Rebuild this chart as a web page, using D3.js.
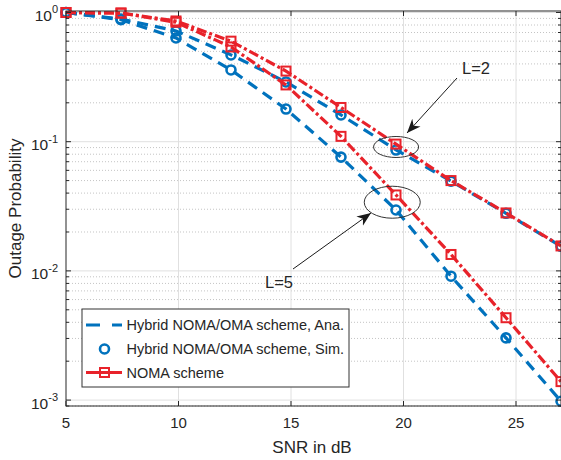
<!DOCTYPE html>
<html>
<head>
<meta charset="utf-8">
<script src="https://cdn.jsdelivr.net/npm/d3@7"></script>
<style>
body { margin: 0; background: #fff; }
svg text { font-family: "Liberation Sans", Arial, sans-serif; fill: #262626; }
</style>
</head>
<body>
<div id="chart"></div>
<script>
// SNR points (dB)
const snr = [5, 7.444, 9.889, 12.333, 14.778, 17.222, 19.667, 22.111, 24.556, 27];
// L = 2
const noma2 = [1.0, 0.99, 0.86, 0.60, 0.352, 0.184, 0.0958, 0.0500, 0.0281, 0.0156];
const hybAna2 = [1.0, 0.89, 0.72, 0.47, 0.29, 0.161, 0.0865, 0.0495, 0.0279, 0.0155];
const hybSim2 = [1.0, 0.89, 0.72, 0.469, 0.29, 0.161, 0.0862, 0.0495, 0.0279, 0.0155];
// L = 5
const noma5 = [1.0, 0.99, 0.84, 0.541, 0.275, 0.110, 0.0387, 0.0134, 0.00434, 0.00139];
const hybAna5 = [1.0, 0.88, 0.635, 0.359, 0.179, 0.076, 0.0296, 0.0091, 0.00303, 0.00098];
const hybSim5 = [1.0, 0.88, 0.635, 0.359, 0.179, 0.076, 0.0296, 0.0091, 0.00303, 0.00098];

const xTicks = [5, 10, 15, 20, 25];
const yTicks = [1, 0.1, 0.01, 0.001];
const yTickExp = ["0", "-1", "-2", "-3"];
const legendLabels = ["Hybrid NOMA/OMA scheme, Ana.", "Hybrid NOMA/OMA scheme, Sim.", "NOMA scheme"];

const width = 561, height = 460;
const pLeft = 66, pRight = 561, pTop = 11, pBottom = 406;
const blue = "#0072BD", red = "#E8222A";

const svg = d3.select("#chart").append("svg")
    .attr("width", width)
    .attr("height", height);

const x = d3.scaleLinear().domain([5, 27]).range([pLeft, pRight]);
const y = d3.scaleLog().domain([9e-4, 1.027]).range([pBottom, pTop]);

// grid
let minorVals = [];
for (let e = -4; e <= 0; e++) {
    for (let m = 2; m <= 9; m++) {
        let v = m * Math.pow(10, e);
        if (v > 9e-4 && v < 1.027) minorVals.push(v);
    }
}
svg.append("g").selectAll("line").data(minorVals).enter().append("line")
    .attr("x1", pLeft).attr("x2", pRight)
    .attr("y1", d => y(d)).attr("y2", d => y(d))
    .attr("stroke", "#c4c4c4").attr("stroke-width", 1)
    .attr("stroke-dasharray", "1,2");
svg.append("g").selectAll("line").data(yTicks).enter().append("line")
    .attr("x1", pLeft).attr("x2", pRight)
    .attr("y1", d => y(d)).attr("y2", d => y(d))
    .attr("stroke", "#e0e0e0").attr("stroke-width", 1);
svg.append("g").selectAll("line").data(xTicks.slice(1)).enter().append("line")
    .attr("x1", d => x(d)).attr("x2", d => x(d))
    .attr("y1", pTop).attr("y2", pBottom)
    .attr("stroke", "#e0e0e0").attr("stroke-width", 1);

// curves
const line = d3.line().x(d => x(d[0])).y(d => y(d[1]));
function drawCurve(vals, color, dash) {
    svg.append("path")
        .datum(snr.map((s, i) => [s, vals[i]]))
        .attr("d", line)
        .attr("fill", "none")
        .attr("stroke", color)
        .attr("stroke-width", 3.2)
        .attr("stroke-dasharray", dash);
}
function drawCircles(vals) {
    svg.append("g").selectAll("circle").data(snr.map((s, i) => [s, vals[i]])).enter().append("circle")
        .attr("cx", d => x(d[0])).attr("cy", d => y(d[1]))
        .attr("r", 4.5)
        .attr("fill", "none").attr("stroke", blue).attr("stroke-width", 2.6);
}
function drawSquares(vals) {
    svg.append("g").selectAll("rect").data(snr.map((s, i) => [s, vals[i]])).enter().append("rect")
        .attr("x", d => x(d[0]) - 4.5).attr("y", d => y(d[1]) - 4.5)
        .attr("width", 9).attr("height", 9)
        .attr("fill", "none").attr("stroke", red).attr("stroke-width", 2);
}
const blueDash = "11,7", redDash = "10,3,3,3";
drawCurve(hybAna2, blue, blueDash);
drawCurve(hybAna5, blue, blueDash);
drawCircles(hybSim2);
drawCircles(hybSim5);
drawCurve(noma2, red, redDash);
drawCurve(noma5, red, redDash);
drawSquares(noma2);
drawSquares(noma5);

// axes box
const axisColor = "#262626";
svg.append("rect")
    .attr("x", pLeft).attr("y", pTop)
    .attr("width", pRight - pLeft).attr("height", pBottom - pTop)
    .attr("fill", "none").attr("stroke", axisColor).attr("stroke-width", 1);

// x ticks
xTicks.forEach(t => {
    svg.append("line").attr("x1", x(t)).attr("x2", x(t)).attr("y1", pBottom).attr("y2", pBottom - 5)
        .attr("stroke", axisColor);
    svg.append("line").attr("x1", x(t)).attr("x2", x(t)).attr("y1", pTop).attr("y2", pTop + 5)
        .attr("stroke", axisColor);
    svg.append("text").attr("x", x(t)).attr("y", 428)
        .attr("text-anchor", "middle").style("font-size", "15px").text(t);
});

// y ticks
yTicks.forEach((t, i) => {
    svg.append("line").attr("x1", pLeft).attr("x2", pLeft + 5).attr("y1", y(t)).attr("y2", y(t))
        .attr("stroke", axisColor);
    svg.append("line").attr("x1", pRight).attr("x2", pRight - 5).attr("y1", y(t)).attr("y2", y(t))
        .attr("stroke", axisColor);
    let txt = svg.append("text").attr("x", 58).attr("y", y(t) + 8.5)
        .attr("text-anchor", "end").style("font-size", "15.5px");
    txt.append("tspan").text("10");
    txt.append("tspan").attr("dy", -7.5).style("font-size", "11px").text(yTickExp[i]);
});
minorVals.forEach(v => {
    svg.append("line").attr("x1", pLeft).attr("x2", pLeft + 3).attr("y1", y(v)).attr("y2", y(v))
        .attr("stroke", axisColor);
    svg.append("line").attr("x1", pRight).attr("x2", pRight - 3).attr("y1", y(v)).attr("y2", y(v))
        .attr("stroke", axisColor);
});

// axis labels
svg.append("text").attr("x", 312).attr("y", 452.5)
    .attr("text-anchor", "middle").style("font-size", "17px").text("SNR in dB");
svg.append("text")
    .attr("transform", "translate(21," + (pTop + pBottom) / 2 + ") rotate(-90)")
    .attr("text-anchor", "middle").style("font-size", "17px").text("Outage Probability");

// annotations
svg.append("defs").append("marker")
    .attr("id", "arrow")
    .attr("viewBox", "0 -5 10 10")
    .attr("refX", 10).attr("refY", 0)
    .attr("markerWidth", 14).attr("markerHeight", 14)
    .attr("markerUnits", "userSpaceOnUse")
    .attr("orient", "auto")
    .append("path")
    .attr("d", "M0,-4L10,0L0,4L3,0Z")
    .attr("fill", "#1a1a1a");

svg.append("ellipse").attr("cx", x(19.67)).attr("cy", y(0.091))
    .attr("rx", 22.5).attr("ry", 10.5)
    .attr("fill", "none").attr("stroke", "#333").attr("stroke-width", 1);
svg.append("line").attr("x1", 457).attr("y1", 78).attr("x2", 407).attr("y2", 133)
    .attr("stroke", "#1a1a1a").attr("stroke-width", 1).attr("marker-end", "url(#arrow)");
svg.append("text").attr("x", 476).attr("y", 74)
    .attr("text-anchor", "middle").style("font-size", "16.5px").text("L=2");

svg.append("ellipse").attr("cx", x(19.5)).attr("cy", y(0.034))
    .attr("rx", 28).attr("ry", 16)
    .attr("fill", "none").attr("stroke", "#333").attr("stroke-width", 1);
svg.append("line").attr("x1", 293).attr("y1", 269).attr("x2", 371).attr("y2", 213)
    .attr("stroke", "#1a1a1a").attr("stroke-width", 1).attr("marker-end", "url(#arrow)");
svg.append("text").attr("x", 279).attr("y", 288)
    .attr("text-anchor", "middle").style("font-size", "16.5px").text("L=5");

// legend
const lg = svg.append("g").attr("transform", "translate(82,309)");
lg.append("rect").attr("width", 267).attr("height", 78)
    .attr("fill", "#fff").attr("stroke", "#333").attr("stroke-width", 1);
const rowY = [16, 40, 63.5];
lg.append("line").attr("x1", 4).attr("x2", 40).attr("y1", rowY[0]).attr("y2", rowY[0])
    .attr("stroke", blue).attr("stroke-width", 3.2).attr("stroke-dasharray", "14,12");
lg.append("circle").attr("cx", 22.5).attr("cy", rowY[1]).attr("r", 4.5)
    .attr("fill", "none").attr("stroke", blue).attr("stroke-width", 2.6);
lg.append("line").attr("x1", 4).attr("x2", 40).attr("y1", rowY[2]).attr("y2", rowY[2])
    .attr("stroke", red).attr("stroke-width", 3.2);
lg.append("rect").attr("x", 18).attr("y", rowY[2] - 4.5).attr("width", 9).attr("height", 9)
    .attr("fill", "none").attr("stroke", red).attr("stroke-width", 2);
legendLabels.forEach((l, i) => {
    lg.append("text").attr("x", 44.5).attr("y", rowY[i] + 5)
        .style("font-size", "14.5px").text(l);
});
</script>
</body>
</html>
